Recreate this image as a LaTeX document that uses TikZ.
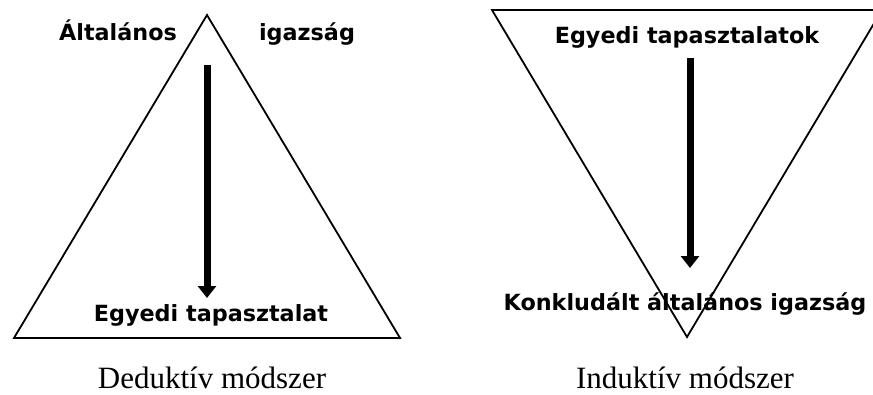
\documentclass[tikz,border=0pt]{standalone}
\usepackage{fontspec}
\setmainfont{Liberation Serif}
\newfontfamily\lblfont{DejaVu Sans}
\usetikzlibrary{arrows.meta}
\tikzset{
  lbl/.style={font=\lblfont\bfseries\fontsize{22.3}{25}\selectfont,anchor=base,inner sep=0pt},
  caption/.style={font=\fontsize{31}{36}\selectfont,anchor=base,inner sep=0pt},
  bigarrow/.style={line width=7pt,-{Triangle[width=18pt,length=12pt]}},
}
\begin{document}
\begin{tikzpicture}[x=1pt,y=-1pt,line width=1.8pt,line join=miter]
  \useasboundingbox (0,0) rectangle (873,394);
  \clip (0,0) rectangle (873,394);

  % deduktiv: csucsaval felfele
  \coordinate (DA) at (207,15);
  \coordinate (DL) at (14,338);
  \coordinate (DR) at (400,338);
  \draw (DA) -- (DR) -- (DL) -- cycle;
  \node[lbl] (altal) at (118,40) {Általános};
  \node[lbl] (igaz) at (307,40) {igazság};
  \node[lbl] (egyedi) at (211,321) {Egyedi tapasztalat};
  \coordinate (D1) at (207,65);
  \coordinate (D2) at (207,298);
  \draw[bigarrow] (D1) -- (D2);
  \node[caption] (ded) at (212,388) {Deduktív módszer};

  % induktiv: csucsaval lefele
  \coordinate (IA) at (687,337);
  \coordinate (IL) at (492,10);
  \coordinate (IR) at (882,10);
  \draw (IA) -- (IL) -- (IR) -- cycle;
  \node[lbl] (egyedik) at (687,43) {Egyedi tapasztalatok};
  \node[lbl] (konkl) at (685,310) {Konkludált általános igazság};
  \coordinate (I1) at (690,58);
  \coordinate (I2) at (690,268);
  \draw[bigarrow] (I1) -- (I2);
  \node[caption] (ind) at (685,388) {Induktív módszer};
\end{tikzpicture}
\end{document}
